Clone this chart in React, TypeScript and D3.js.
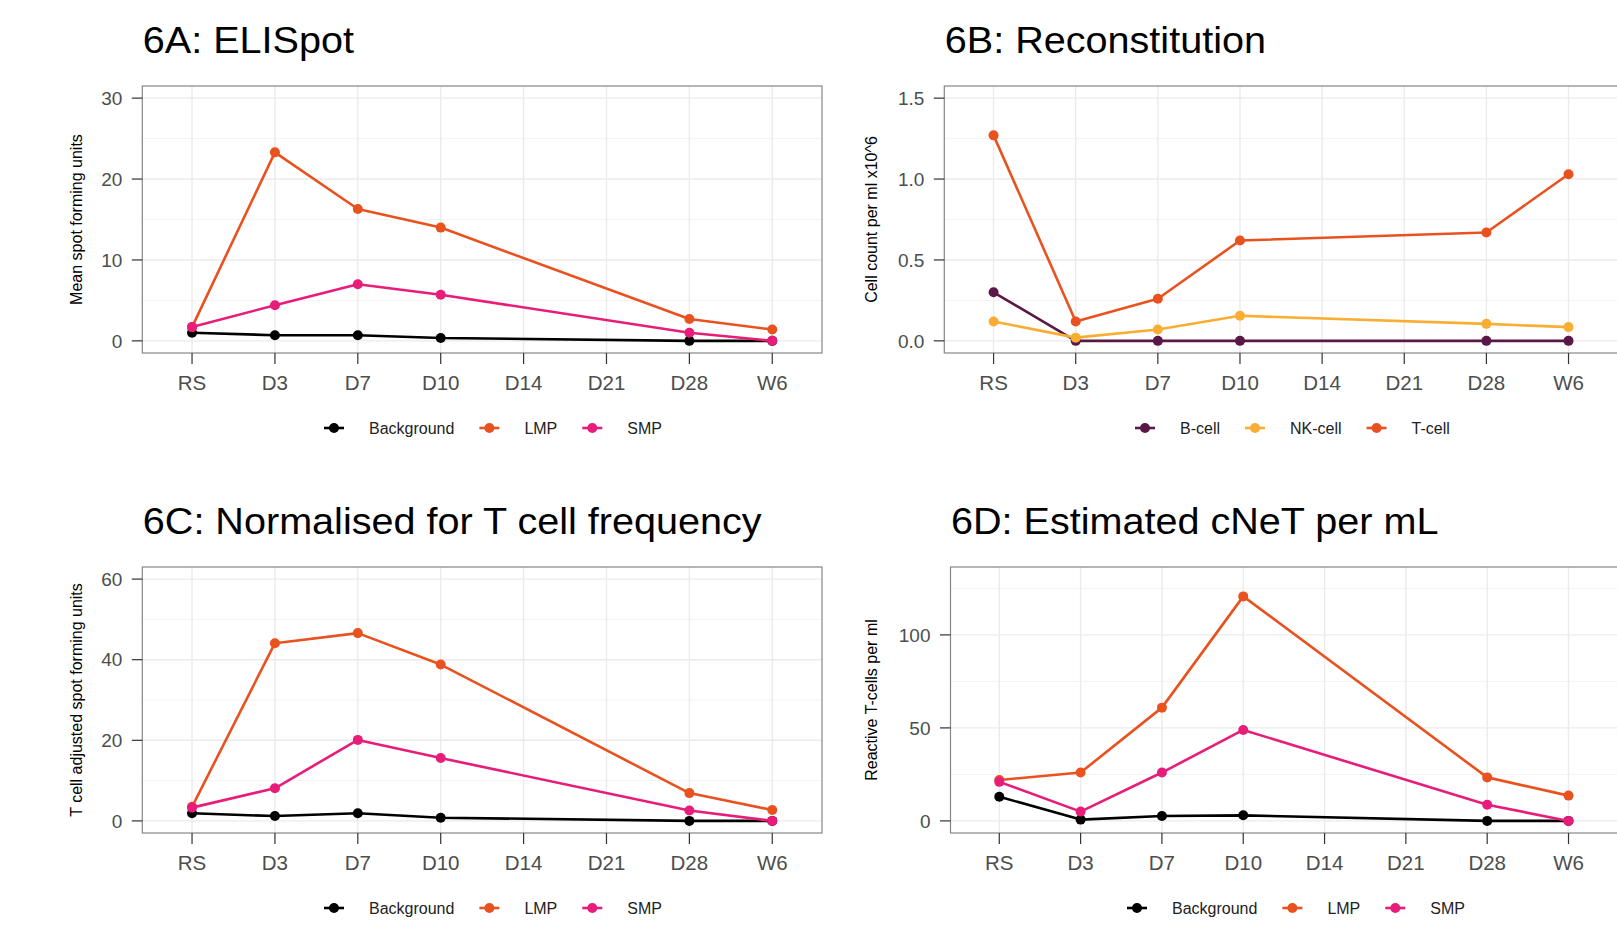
import React, { useEffect, useRef } from "react";
import * as d3 from "d3";

// time points on the x axis (D14 and D21 have no measurements)
const timepoints = ["RS", "D3", "D7", "D10", "D14", "D21", "D28", "W6"];

// 6A: ELISpot, mean spot forming units
const elispotBackground = [1.0, 0.7, 0.7, 0.35, null, null, 0, 0];
const elispotLMP = [1.7, 23.3, 16.3, 14.0, null, null, 2.7, 1.4];
const elispotSMP = [1.7, 4.4, 7.0, 5.7, null, null, 1.0, 0];

// 6B: Reconstitution, cell count per ml x10^6
const reconBcell = [0.3, 0, 0, 0, null, null, 0, 0];
const reconNKcell = [0.12, 0.02, 0.07, 0.155, null, null, 0.105, 0.085];
const reconTcell = [1.27, 0.12, 0.26, 0.62, null, null, 0.67, 1.03];

// 6C: normalised for T cell frequency
const normBackground = [1.9, 1.2, 1.9, 0.8, null, null, 0, 0];
const normLMP = [3.5, 44.1, 46.6, 38.8, null, null, 6.9, 2.7];
const normSMP = [3.3, 8.1, 20.1, 15.6, null, null, 2.6, 0];

// 6D: estimated cNeT per mL
const cnetBackground = [13, 0.7, 2.6, 3, null, null, 0, 0];
const cnetLMP = [22, 26, 60.9, 120.7, null, null, 23.4, 13.6];
const cnetSMP = [21, 5, 26, 48.9, null, null, 8.7, 0];

const COLORS = {
  Background: "#000000",
  LMP: "#e9521f",
  SMP: "#e71d79",
  "B-cell": "#5a1846",
  "NK-cell": "#f9ae33",
  "T-cell": "#e9521f",
};

const FONT = "'Liberation Sans', Arial, Helvetica, sans-serif";
const W = 1617;

const panels = [
  {
    title: "6A: ELISpot",
    yTitle: "Mean spot forming units",
    x0: 142.3, x1: 822, y0: 86, y1: 353,
    yMax: 30, ticks: [0, 10, 20, 30], minor: [5, 15, 25], fmt: d3.format("d"),
    legendX: 334, yTitleX: 82,
    series: [
      { name: "Background", values: elispotBackground },
      { name: "LMP", values: elispotLMP },
      { name: "SMP", values: elispotSMP },
    ],
  },
  {
    title: "6B: Reconstitution",
    yTitle: "Cell count per ml x10^6",
    x0: 944.3, x1: 1617.8, y0: 86, y1: 353,
    yMax: 1.5, ticks: [0, 0.5, 1, 1.5], minor: [0.25, 0.75, 1.25], fmt: d3.format(".1f"),
    legendX: 1145, yTitleX: 877,
    series: [
      { name: "B-cell", values: reconBcell },
      { name: "NK-cell", values: reconNKcell },
      { name: "T-cell", values: reconTcell },
    ],
  },
  {
    title: "6C: Normalised for T cell frequency",
    yTitle: "T cell adjusted spot forming units",
    x0: 142.3, x1: 822, y0: 567, y1: 833,
    yMax: 60, ticks: [0, 20, 40, 60], minor: [10, 30, 50], fmt: d3.format("d"),
    legendX: 334, yTitleX: 82,
    series: [
      { name: "Background", values: normBackground },
      { name: "LMP", values: normLMP },
      { name: "SMP", values: normSMP },
    ],
  },
  {
    title: "6D: Estimated cNeT per mL",
    yTitle: "Reactive T-cells per ml",
    x0: 950.5, x1: 1617.3, y0: 567, y1: 833,
    yMax: 130, ticks: [0, 50, 100], minor: [25, 75, 125], fmt: d3.format("d"),
    legendX: 1137, yTitleX: 877,
    series: [
      { name: "Background", values: cnetBackground },
      { name: "LMP", values: cnetLMP },
      { name: "SMP", values: cnetSMP },
    ],
  },
];

const App = () => {
  const svgRef = useRef<SVGSVGElement>(null);

  useEffect(() => {
    const svg = d3.select(svgRef.current);
    svg.selectAll("*").remove();

    panels.forEach((p, pi) => {
      const g = svg.append("g");

      const x = d3.scalePoint().domain(timepoints).range([p.x0, p.x1]).padding(0.6);
      const pad = p.yMax * 0.05;
      const y = d3.scaleLinear().domain([-pad, p.yMax + pad]).range([p.y1, p.y0]);

      // panels on the right run off the edge of the figure
      const boxRight = p.x1 > W - 5 ? W + 5 : p.x1;

      const clipId = `clip-${pi}`;
      g.append("clipPath")
        .attr("id", clipId)
        .append("rect")
        .attr("x", p.x0)
        .attr("y", p.y0)
        .attr("width", boxRight - p.x0)
        .attr("height", p.y1 - p.y0);

      // minor gridlines
      g.selectAll(".minor")
        .data(p.minor)
        .enter()
        .append("line")
        .attr("x1", p.x0)
        .attr("x2", boxRight)
        .attr("y1", (d) => y(d))
        .attr("y2", (d) => y(d))
        .attr("stroke", "#f3f3f3")
        .attr("stroke-width", 1);

      // major gridlines
      g.selectAll(".hmajor")
        .data(p.ticks)
        .enter()
        .append("line")
        .attr("x1", p.x0)
        .attr("x2", boxRight)
        .attr("y1", (d) => y(d))
        .attr("y2", (d) => y(d))
        .attr("stroke", "#ebebeb")
        .attr("stroke-width", 1.4);

      g.selectAll(".vmajor")
        .data(timepoints)
        .enter()
        .append("line")
        .attr("x1", (d) => x(d))
        .attr("x2", (d) => x(d))
        .attr("y1", p.y0)
        .attr("y2", p.y1)
        .attr("stroke", "#ebebeb")
        .attr("stroke-width", 1.4);

      // lines and points
      const marks = g.append("g").attr("clip-path", `url(#${clipId})`);
      const line = d3
        .line<{ t: string; v: number }>()
        .x((d) => x(d.t))
        .y((d) => y(d.v));

      p.series.forEach((s) => {
        const pts = timepoints
          .map((t, i) => ({ t, v: s.values[i] }))
          .filter((d) => d.v !== null) as { t: string; v: number }[];
        marks
          .append("path")
          .attr("d", line(pts))
          .attr("fill", "none")
          .attr("stroke", COLORS[s.name])
          .attr("stroke-width", 2.6)
          .attr("stroke-linejoin", "round");
        marks
          .selectAll(null)
          .data(pts)
          .enter()
          .append("circle")
          .attr("cx", (d) => x(d.t))
          .attr("cy", (d) => y(d.v))
          .attr("r", 5)
          .attr("fill", COLORS[s.name]);
      });

      // panel border
      g.append("rect")
        .attr("x", p.x0)
        .attr("y", p.y0)
        .attr("width", boxRight - p.x0)
        .attr("height", p.y1 - p.y0)
        .attr("fill", "none")
        .attr("stroke", "#858585")
        .attr("stroke-width", 1.2);

      // y axis ticks and labels
      g.selectAll(".ytick")
        .data(p.ticks)
        .enter()
        .append("line")
        .attr("x1", p.x0 - 10.5)
        .attr("x2", p.x0)
        .attr("y1", (d) => y(d))
        .attr("y2", (d) => y(d))
        .attr("stroke", "#333333")
        .attr("stroke-width", 1.2);

      g.selectAll(".ylab")
        .data(p.ticks)
        .enter()
        .append("text")
        .attr("x", p.x0 - 20)
        .attr("y", (d) => y(d))
        .attr("dy", "0.35em")
        .attr("text-anchor", "end")
        .style("font-family", FONT)
        .style("font-size", "19px")
        .style("fill", "#4d4d4d")
        .text((d) => p.fmt(d));

      // x axis ticks and labels
      g.selectAll(".xtick")
        .data(timepoints)
        .enter()
        .append("line")
        .attr("x1", (d) => x(d))
        .attr("x2", (d) => x(d))
        .attr("y1", p.y1)
        .attr("y2", p.y1 + 11)
        .attr("stroke", "#333333")
        .attr("stroke-width", 1.2);

      g.selectAll(".xlab")
        .data(timepoints)
        .enter()
        .append("text")
        .attr("x", (d) => x(d))
        .attr("y", p.y1 + 37)
        .attr("text-anchor", "middle")
        .style("font-family", FONT)
        .style("font-size", "20.5px")
        .style("fill", "#4d4d4d")
        .text((d) => d);

      // y axis title
      g.append("text")
        .attr("transform", `translate(${p.yTitleX}, ${(p.y0 + p.y1) / 2}) rotate(-90)`)
        .attr("text-anchor", "middle")
        .style("font-family", FONT)
        .style("font-size", "16px")
        .style("fill", "#000")
        .text(p.yTitle);

      // title (the source figure is slightly stretched horizontally)
      g.append("text")
        .attr("transform", `translate(${p.x0 + 0.5}, ${p.y0 - 33}) scale(1.07, 1)`)
        .style("font-family", FONT)
        .style("font-size", "37px")
        .style("fill", "#000")
        .text(p.title);

      // legend
      const ly = p.y1 + 75;
      let cx = p.legendX;
      p.series.forEach((s) => {
        const col = COLORS[s.name];
        g.append("line")
          .attr("x1", cx - 10)
          .attr("x2", cx + 10)
          .attr("y1", ly)
          .attr("y2", ly)
          .attr("stroke", col)
          .attr("stroke-width", 2.6);
        g.append("circle").attr("cx", cx).attr("cy", ly).attr("r", 5).attr("fill", col);
        const t = g
          .append("text")
          .attr("x", cx + 35)
          .attr("y", ly)
          .attr("dy", "0.35em")
          .style("font-family", FONT)
          .style("font-size", "16px")
          .style("fill", "#222")
          .text(s.name);
        const w = (t.node() as SVGTextElement).getComputedTextLength();
        cx = cx + 35 + w + 35;
      });
    });
  }, []);

  return (
    <svg
      ref={svgRef}
      width={W}
      height={930}
      style={{ position: "absolute", left: 0, top: 0, background: "#fff" }}
    />
  );
};

export default App;
